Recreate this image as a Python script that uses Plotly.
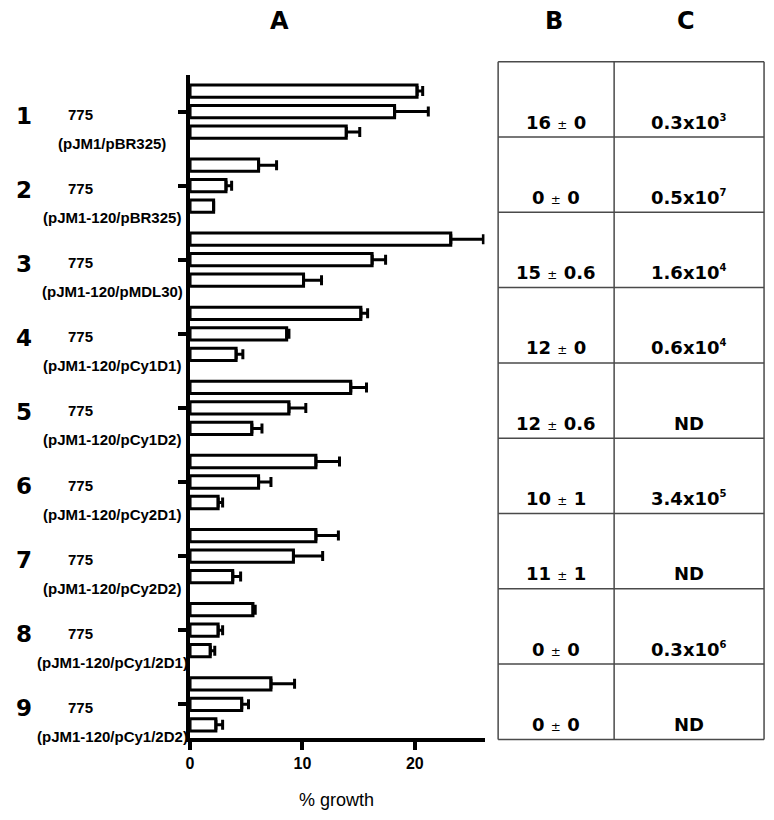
import plotly.graph_objects as go

# ---------------- data ----------------
groups = [1, 2, 3, 4, 5, 6, 7, 8, 9]
strain = ["775"] * 9
plasmids = ["(pJM1/pBR325)", "(pJM1-120/pBR325)", "(pJM1-120/pMDL30)",
            "(pJM1-120/pCy1D1)", "(pJM1-120/pCy1D2)", "(pJM1-120/pCy2D1)",
            "(pJM1-120/pCy2D2)", "(pJM1-120/pCy1/2D1)", "(pJM1-120/pCy1/2D2)"]

bar1 = [20.2, 6.1, 23.2, 15.2, 14.3, 11.2, 11.2, 5.6, 7.2]
err1 = [0.5, 1.6, 2.9, 0.6, 1.4, 2.1, 2.0, 0.2, 2.1]
bar2 = [18.2, 3.2, 16.2, 8.6, 8.8, 6.1, 9.2, 2.5, 4.6]
err2 = [3.0, 0.5, 1.2, 0.2, 1.5, 1.1, 2.6, 0.4, 0.6]
bar3 = [13.9, 2.1, 10.1, 4.1, 5.5, 2.5, 3.8, 1.8, 2.3]
err3 = [1.2, None, 1.6, 0.6, 0.9, 0.4, 0.7, 0.4, 0.6]

b_mean = ["16", "0", "15", "12", "12", "10", "11", "0", "0"]
b_sd = ["0", "0", "0.6", "0", "0.6", "1", "1", "0", "0"]
c_mant = ["0.3", "0.5", "1.6", "0.6", None, "3.4", None, "0.3", None]
c_exp = ["3", "7", "4", "4", None, "5", None, "6", None]

x_ticks = [0, 10, 20]
panel_titles = ["A", "B", "C"]

# ---------------- layout helpers ----------------
W, H = 774, 820
def px(x):
    return x / W
def py(y):
    return 1 - y / H

NARROW = "Liberation Sans, Arial, sans-serif"
VERD = "DejaVu Sans, Verdana, sans-serif"

fig = go.Figure()
for vals, errs in [(bar1, err1), (bar2, err2), (bar3, err3)]:
    fig.add_trace(go.Bar(
        y=groups, x=vals, orientation="h",
        marker=dict(color="white", line=dict(color="black", width=3)),
        error_x=dict(type="data", array=[e if e is not None else float("nan") for e in errs],
                     arrayminus=[0] * len(errs), symmetric=False,
                     color="black", thickness=3, width=5),
        showlegend=False, hoverinfo="skip",
    ))

fig.update_layout(
    width=W, height=H,
    margin=dict(l=0, r=0, t=0, b=0),
    paper_bgcolor="white", plot_bgcolor="white",
    barmode="group", bargap=0.17, bargroupgap=0.40,
    xaxis=dict(domain=[px(187), px(483)], range=[0, 26.2],
               showgrid=False, zeroline=False,
               showline=True, linecolor="black", linewidth=4,
               ticks="outside", ticklen=8, tickwidth=4, tickcolor="black",
               tickvals=x_ticks, ticktext=[str(t) for t in x_ticks],
               tickfont=dict(family=NARROW, size=16, color="black", weight="bold")),
    yaxis=dict(domain=[py(737.5), py(75)], range=[9.448, 0.507],
               showgrid=False, zeroline=False,
               showline=True, linecolor="black", linewidth=4,
               ticks="outside", ticklen=8, tickwidth=4, tickcolor="black",
               tickvals=groups, showticklabels=False),
)

ann = []
# panel titles
for t, xx in zip(panel_titles, [277, 553, 686]):
    ann.append(dict(text=t, x=px(xx), y=py(21), xref="paper", yref="paper",
                    xanchor="center", yanchor="middle", showarrow=False,
                    font=dict(family=VERD, size=24, color="black", weight="bold")))
# x-axis title
ann.append(dict(text="% growth", x=px(334), y=py(800), xref="paper", yref="paper",
                xanchor="center", yanchor="middle", showarrow=False,
                font=dict(family=NARROW, size=18, color="black")))
# left labels
for g, s, p in zip(groups, strain, plasmids):
    ann.append(dict(text=str(g), x=px(20), y=g, xref="paper", yref="y",
                    xanchor="center", yanchor="middle", yshift=-4, showarrow=False,
                    font=dict(family=VERD, size=23, color="black", weight="bold")))
    ann.append(dict(text=s, x=px(77), y=g, xref="paper", yref="y",
                    xanchor="center", yanchor="middle", yshift=-3, showarrow=False,
                    font=dict(family=NARROW, size=15, color="black", weight="bold")))
    ann.append(dict(text=p, x=px(109), y=g, xref="paper", yref="y",
                    xanchor="center", yanchor="middle", yshift=-32, showarrow=False,
                    font=dict(family=NARROW, size=15, color="black", weight="bold")))

# table
tbl_top, row_h = 61.7, 75.3
xl, xm, xr = 496.7, 613.3, 764
shapes = []
for i in range(len(groups) + 1):
    yy = tbl_top + i * row_h
    shapes.append(dict(type="line", xref="paper", yref="paper",
                       x0=px(xl), x1=px(xr), y0=py(yy), y1=py(yy),
                       line=dict(color="#4a4a4a", width=1.5)))
yb = tbl_top + len(groups) * row_h
for xx in [xl, xm, xr]:
    shapes.append(dict(type="line", xref="paper", yref="paper",
                       x0=px(xx), x1=px(xx), y0=py(tbl_top), y1=py(yb),
                       line=dict(color="#4a4a4a", width=1.5)))

for i in range(len(groups)):
    yc = tbl_top + (i + 1) * row_h - 15
    btxt = f"{b_mean[i]} <span style='font-weight:normal;font-size:12px'>±</span> {b_sd[i]}"
    ann.append(dict(text=btxt, x=px(555), y=py(yc), xref="paper", yref="paper",
                    xanchor="center", yanchor="middle", showarrow=False,
                    font=dict(family=VERD, size=18, color="black", weight="bold")))
    if c_mant[i] is None:
        ctxt = "ND"
    else:
        ctxt = f"{c_mant[i]}x10<sup><span style='font-size:10px'>{c_exp[i]}</span></sup>"
    ann.append(dict(text=ctxt, x=px(688.5), y=py(yc), xref="paper", yref="paper",
                    xanchor="center", yanchor="middle", showarrow=False,
                    font=dict(family=VERD, size=18, color="black", weight="bold")))

fig.update_layout(annotations=ann, shapes=shapes)
fig.write_html("out.html", config={"displayModeBar": False},
               post_script="document.body.style.margin='0px';")
